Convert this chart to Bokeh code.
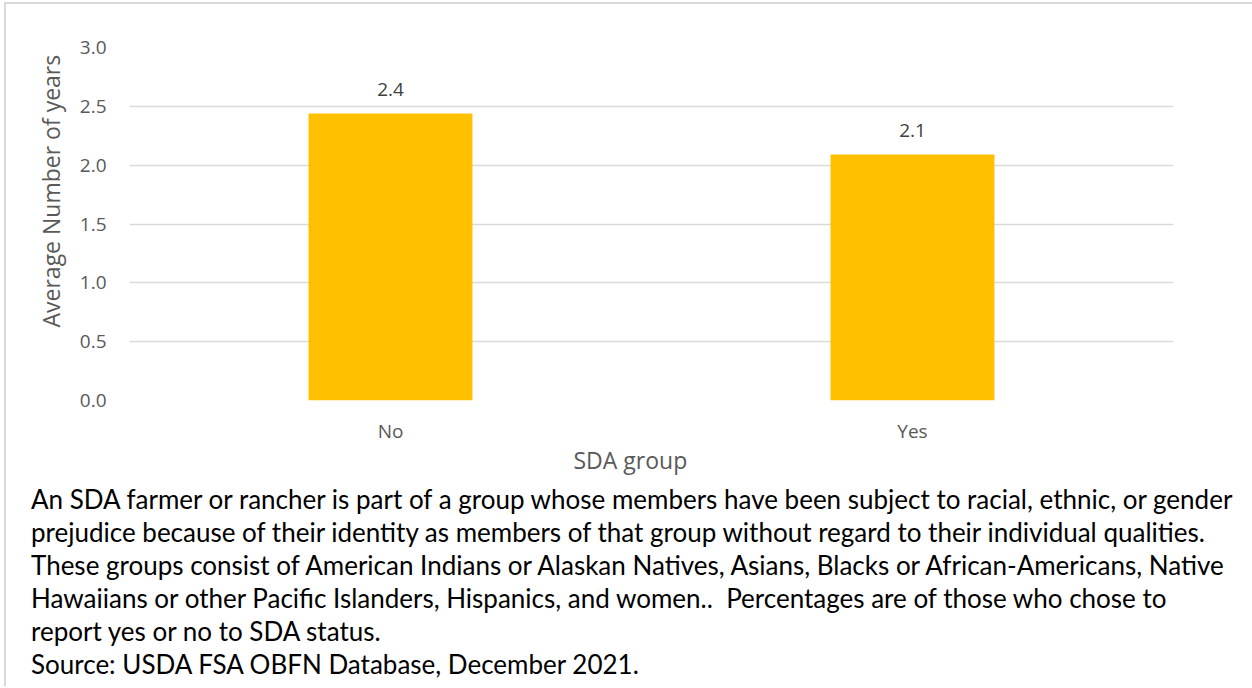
import html
from bokeh.plotting import figure
from bokeh.models import (ColumnDataSource, LabelSet, Range1d, Div, Title,
                          FactorRange, FixedTicker, NumeralTickFormatter)
from bokeh.core.properties import value
from bokeh.layouts import column
from bokeh.embed import file_html
from bokeh.resources import INLINE

# ---- data ----
categories = ["No", "Yes"]
values = [2.44, 2.09]
value_labels = ["2.4", "2.1"]
y_ticks = [0.0, 0.5, 1.0, 1.5, 2.0, 2.5, 3.0]
y_title = "Average Number of years"
x_title = "SDA group"
footnote_lines = [
    "An SDA farmer or rancher is part of a group whose members have been subject to racial, ethnic, or gender",
    "prejudice because of their identity as members of that group without regard to their individual qualities.",
    "These groups consist of American Indians or Alaskan Natives, Asians, Blacks or African-Americans, Native",
    "Hawaiians or other Pacific Islanders, Hispanics, and women..  Percentages are of those who chose to",
    "report yes or no to SDA status.",
    "Source: USDA FSA OBFN Database, December 2021.",
]

# ---- layout constants ----
W = 1240
H = 474
ML, MR, MT, MB = 123, 73, 43, 78

TICK_FONT = "Open Sans"
GRAY = "#595959"

p = figure(x_range=FactorRange(*categories), y_range=Range1d(0, 3),
           width=W, height=H, output_backend="svg", toolbar_location=None,
           min_border_left=ML, min_border_right=MR,
           min_border_top=MT, min_border_bottom=MB)

src = ColumnDataSource(dict(x=categories, y=values, t=value_labels))
p.vbar(x="x", top="y", width=0.314, source=src, fill_color="#FFC000",
       line_color=None)

p.add_layout(LabelSet(x="x", y="y", text="t", source=src, y_offset=24,
                      text_align="center", text_baseline="middle",
                      text_font=value(TICK_FONT), text_font_size="19px",
                      text_color="#404040"))

p.outline_line_color = None
p.background_fill_color = "white"
p.border_fill_color = "white"

p.xgrid.grid_line_color = None
p.ygrid.grid_line_color = "#d9d9d9"
p.ygrid.grid_line_width = 1.4
p.yaxis.ticker = FixedTicker(ticks=y_ticks)
p.yaxis.formatter = NumeralTickFormatter(format="0.0")

for ax in (p.xaxis[0], p.yaxis[0]):
    ax.axis_line_color = None
    ax.major_tick_line_color = None
    ax.minor_tick_line_color = None
    ax.major_tick_out = 0
    ax.major_tick_in = 0
    ax.major_label_text_font = TICK_FONT
    ax.major_label_text_font_size = "19px"
    ax.major_label_text_color = GRAY
p.yaxis.major_label_standoff = 23
p.xaxis.major_label_standoff = 17

p.add_layout(Title(text=y_title, align="left", offset=73, standoff=20,
                   text_font=TICK_FONT, text_font_size="23px",
                   text_font_style="normal", text_color=GRAY), "left")
p.add_layout(Title(text=x_title, align="left", offset=444, standoff=-9,
                   text_font=TICK_FONT, text_font_size="23px",
                   text_font_style="normal", text_color=GRAY), "below")

lines_html = "<br>".join(html.escape(l).replace("  ", "&nbsp; ")
                         for l in footnote_lines)
div = Div(text=('<div style="font-family: Lato; font-size: 26px; '
                'line-height: 33px; color: #000000; padding-left: 20px; '
                'white-space: nowrap;">' + lines_html + '</div>'),
          width=W, height=33 * len(footnote_lines))

layout = column(p, div, styles={"border-left": "2px solid #d9d9d9",
                                "border-top": "2px solid #d9d9d9",
                                "margin-left": "4px", "margin-top": "2px",
                                "background-color": "white"})

open("out.html", "w").write(file_html(layout, INLINE))
